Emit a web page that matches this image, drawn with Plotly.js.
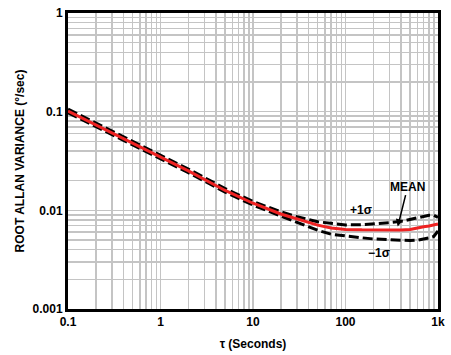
<!DOCTYPE html>
<html>
<head>
<meta charset="utf-8">
<script src="https://cdn.plot.ly/plotly-3.0.1.min.js"></script>
<style>html,body{margin:0;padding:0;background:#fff;}#chart{width:451px;height:355px;}</style>
</head>
<body>
<div id="chart"></div>
<script>
// tau (seconds)
const tau = [0.1, 0.2, 0.5, 1, 2, 5, 10, 20, 30, 50, 70, 100, 150, 200, 300, 400, 500, 600, 700, 800, 900, 1000];
// mean root Allan variance (deg/sec)
const meanVals = [0.1016, 0.0735, 0.0476, 0.0347, 0.0251, 0.0159, 0.0118, 0.00918, 0.00813, 0.00708, 0.00661, 0.00641, 0.00634, 0.00631, 0.00631, 0.00631, 0.00638, 0.00665, 0.00681, 0.00695, 0.00708, 0.00728];
// +1 sigma
const upperVals = [0.1060, 0.0766, 0.0496, 0.0362, 0.0262, 0.0166, 0.0123, 0.00965, 0.00860, 0.00766, 0.00733, 0.00711, 0.00716, 0.00728, 0.0075, 0.00773, 0.00813, 0.00845, 0.00865, 0.00891, 0.00891, 0.00847];
// -1 sigma
const lowerVals = [0.0975, 0.0705, 0.0457, 0.0333, 0.0241, 0.0153, 0.0113, 0.00875, 0.0075, 0.00628, 0.00573, 0.00548, 0.00527, 0.00513, 0.00504, 0.00497, 0.00494, 0.00499, 0.00509, 0.00525, 0.00543, 0.00617];

const xDecades = [0.1, 1, 10, 100, 1000];
const xDecadeLabels = ["0.1", "1", "10", "100", "1k"];
const yDecades = [0.001, 0.01, 0.1, 1];
const yDecadeLabels = ["0.001", "0.01", "0.1", "1"];

function gridTicks(decades, labels) {
  const vals = [], text = [];
  decades.forEach((d, i) => {
    vals.push(d); text.push(labels[i]);
    if (i < decades.length - 1) {
      for (let m = 2; m <= 9; m++) { vals.push(+(d * m).toPrecision(6)); text.push(""); }
    }
  });
  return {vals, text};
}
const xt = gridTicks(xDecades, xDecadeLabels);
const yt = gridTicks(yDecades, yDecadeLabels);

const fontFam = "Liberation Sans, Arial, sans-serif";
const boldFont = {family: fontFam, size: 12, color: "#000", weight: "bold"};

const traces = [
  {x: tau, y: upperVals, mode: "lines", line: {color: "#000", width: 3, dash: "10px,4px"}, name: "+1σ", hoverinfo: "skip"},
  {x: tau, y: lowerVals, mode: "lines", line: {color: "#000", width: 3, dash: "10px,4px"}, name: "−1σ", hoverinfo: "skip"},
  {x: tau, y: meanVals, mode: "lines", line: {color: "#ee2222", width: 3}, name: "MEAN"}
];

const layout = {
  width: 451, height: 355,
  margin: {l: 68, r: 13, t: 13, b: 46},
  paper_bgcolor: "#fff", plot_bgcolor: "#fff",
  showlegend: false,
  font: boldFont,
  xaxis: {
    type: "log", range: [-1, 3],
    tickmode: "array", tickvals: xt.vals, ticktext: xt.text,
    showgrid: true, gridcolor: "#c4c4c4", gridwidth: 1.5,
    showline: true, linecolor: "#000", linewidth: 3, mirror: true,
    ticks: "", tickfont: boldFont, zeroline: false,
    title: {text: "τ (Seconds)", font: boldFont, standoff: 12}
  },
  yaxis: {
    type: "log", range: [-3, 0],
    tickmode: "array", tickvals: yt.vals, ticktext: yt.text,
    showgrid: true, gridcolor: "#c4c4c4", gridwidth: 1.5,
    showline: true, linecolor: "#000", linewidth: 3, mirror: true,
    ticks: "", tickfont: boldFont, zeroline: false,
    title: {text: "ROOT ALLAN VARIANCE (°/sec)", font: boldFont, standoff: 6}
  },
  annotations: [
    {x: Math.log10(146), y: Math.log10(0.0101), text: "+1σ", showarrow: false, font: boldFont},
    {x: Math.log10(229), y: Math.log10(0.0037), text: "−1σ", showarrow: false, font: boldFont},
    {x: Math.log10(367), y: Math.log10(0.00684), text: "MEAN", showarrow: true,
     ax: 10, ay: -40, arrowhead: 2, arrowsize: 1, arrowwidth: 1.5, arrowcolor: "#000", font: boldFont}
  ]
};

Plotly.newPlot("chart", traces, layout, {displayModeBar: false, staticPlot: true});
</script>
</body>
</html>
